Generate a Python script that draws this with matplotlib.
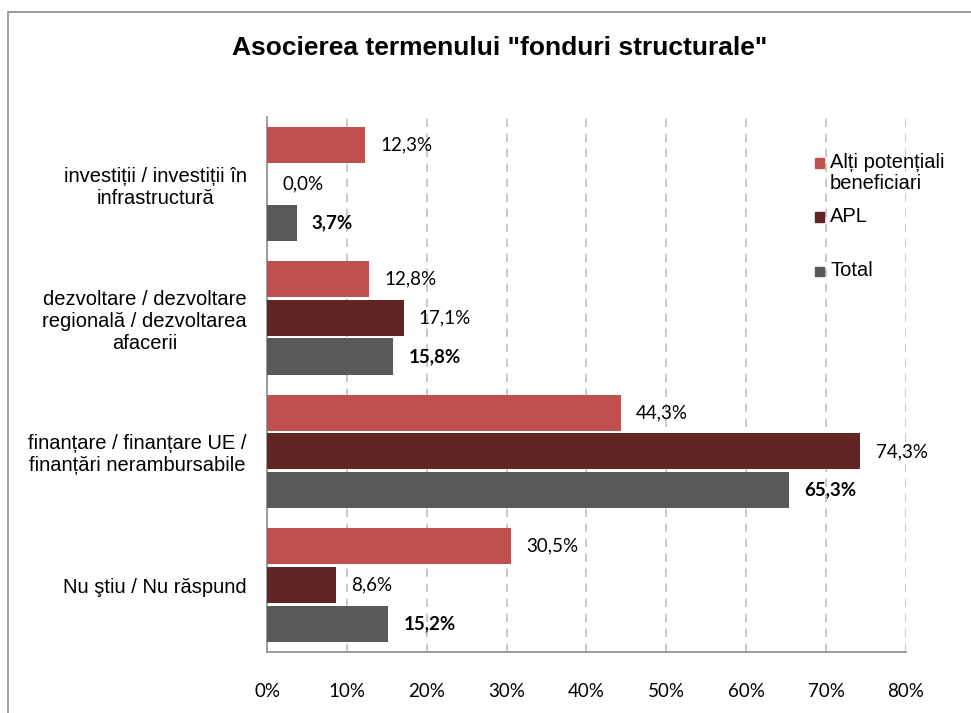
import matplotlib.pyplot as plt
import numpy as np
from matplotlib.patches import Rectangle

categories = [
    "investiții / investiții în\ninfrastructură",
    "dezvoltare / dezvoltare\nregională / dezvoltarea\nafacerii",
    "finanțare / finanțare UE /\nfinanțări nerambursabile",
    "Nu ştiu / Nu răspund",
]
series_names = ["Alți potențiali\nbeneficiari", "APL", "Total"]
alti = [12.3, 12.8, 44.3, 30.5]
apl = [0.0, 17.1, 74.3, 8.6]
total = [3.7, 15.8, 65.3, 15.2]
xticks = [0, 10, 20, 30, 40, 50, 60, 70, 80]

colors = ["#C0504D", "#632523", "#595959"]
label_font = ["Lato", "DejaVu Sans"]
text_font = ["Liberation Sans", "DejaVu Sans"]

W, H = 971, 713
fig = plt.figure(figsize=(W / 100, H / 100), dpi=100)
ax = fig.add_axes([0.275, 0.0856, 0.658, 0.750])

# outer chart frame
fig.patches.append(Rectangle((8 / W, -0.05), 1.2, 1 - 12 / H + 0.05,
                             transform=fig.transFigure, fill=False,
                             edgecolor="#8C8C8C", linewidth=1.2))

y = np.arange(len(categories))
bar_h = 0.27
step = 0.29
for i, (vals, col) in enumerate(zip([alti, apl, total], colors)):
    pos = y + (i - 1) * step
    ax.barh(pos, vals, height=bar_h, color=col, zorder=3)
    for p, v in zip(pos, vals):
        ax.annotate(f"{v:.1f}%".replace(".", ","), (v, p), xytext=(11, 0),
                    textcoords="offset points", va="center", ha="left",
                    fontsize=13.5, family=label_font,
                    fontweight="bold" if i == 2 else "normal", color="black")

ax.set_ylim(len(categories) - 0.5, -0.5)
ax.set_xlim(0, 80)
ax.set_xticks(xticks)
ax.set_xticklabels([f"{t}%" for t in xticks], family=label_font, fontsize=13.5)
ax.set_yticks(y)
ax.set_yticklabels(categories, family=text_font, fontsize=14.5, linespacing=1.2,
                   ha="right", multialignment="center")
ax.tick_params(axis="y", length=0, pad=14.5)
ax.tick_params(axis="x", length=0, pad=22)
ax.grid(axis="x", linestyle=(0, (5, 4)), color="#BFBFBF", linewidth=1.2, zorder=0)
for s in ["top", "right"]:
    ax.spines[s].set_visible(False)
for s in ["left", "bottom"]:
    ax.spines[s].set_color("#8C8C8C")
    ax.spines[s].set_linewidth(1.2)

fig.text(0.515, 1 - 48 / H, 'Asocierea termenului "fonduri structurale"',
         ha="center", va="center", fontsize=19, fontweight="bold",
         family=text_font)

# legend, placed by hand like the original
legend_y = [163, 217, 271]
for name, col, ly in zip(series_names, colors, legend_y):
    fig.patches.append(Rectangle((815 / W, 1 - (ly + 4.5) / H), 9 / W, 9 / H,
                                 transform=fig.transFigure, color=col))
    fig.text(830 / W, 1 - (ly - 10) / H, name, ha="left", va="top",
             fontsize=14.5, family=text_font, linespacing=1.15)

fig.savefig("out.png", dpi=100)
